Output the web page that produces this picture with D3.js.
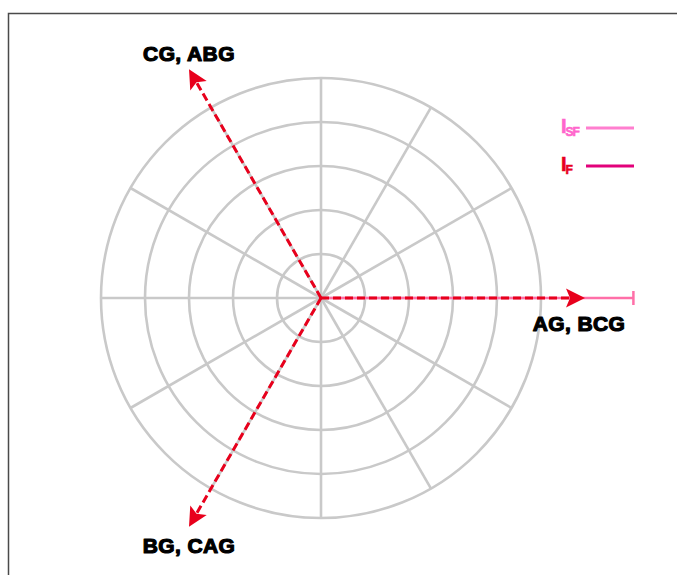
<!DOCTYPE html>
<html>
<head>
<meta charset="utf-8">
<script src="https://cdn.jsdelivr.net/npm/d3@7"></script>
<style>
  html, body { margin: 0; padding: 0; background: #fff; }
  svg { display: block; }
  .lbl { font-family: "Liberation Sans", Arial, sans-serif; font-weight: bold; }
</style>
</head>
<body>
<svg id="chart" width="677" height="575"></svg>
<script>
// Polar grid: ring values and spoke angles (degrees, counter-clockwise from east)
const ringValues = [0.2, 0.4, 0.6, 0.8, 1.0];
const spokeAngles = [0, 30, 60, 90, 120, 150, 180, 210, 240, 270, 300, 330];

// Fault-type phasors (dashed red arrows)
const faultLabels = ["AG, BCG", "CG, ABG", "BG, CAG"];
const faultAngles = [0, 120, 240];
const faultMagnitudes = [1.2, 1.2, 1.2];

// Reference current phasor (pink, with end tick)
const refAngle = [0];
const refMagnitude = [1.42];

// Legend entries
const legendNames = [["I", "SF"], ["I", "F"]];
const legendTextColors = ["#ff66cc", "#e8001c"];
const legendLineColors = ["#ff7fcf", "#e2007a"];

const svg = d3.select("#chart");
const cx = 321, cy = 298;
const r = d3.scaleLinear().domain([0, 1]).range([0, 220]);
const rad = d => d * Math.PI / 180;
const px = (ang, m) => cx + r(m) * Math.cos(rad(ang));
const py = (ang, m) => cy - r(m) * Math.sin(rad(ang));

// Frame
svg.append("rect").attr("x", 8.5).attr("y", 13.5).attr("width", 720).attr("height", 620)
  .attr("fill", "none").attr("stroke", "#4a4a4a").attr("stroke-width", 1.5);

const grid = svg.append("g").attr("fill", "none").attr("stroke", "#c9c9c9").attr("stroke-width", 2.6);
grid.selectAll("circle").data(ringValues).join("circle")
  .attr("cx", cx).attr("cy", cy).attr("r", d => r(d));
grid.selectAll("line").data(spokeAngles).join("line")
  .attr("x1", cx).attr("y1", cy)
  .attr("x2", d => px(d, d3.max(ringValues)))
  .attr("y2", d => py(d, d3.max(ringValues)));

// Arrowhead marker
const defs = svg.append("defs");
defs.append("marker").attr("id", "head")
  .attr("viewBox", "-20 -10 21 20").attr("refX", 0).attr("refY", 0)
  .attr("markerWidth", 21).attr("markerHeight", 20)
  .attr("markerUnits", "userSpaceOnUse").attr("orient", "auto")
  .append("path").attr("d", "M0,0 L-19,-9.5 L-15,0 L-19,9.5 Z").attr("fill", "#e8001c");

// Pink reference phasor
svg.selectAll(".ref").data(refAngle).join("g").attr("class", "ref").each(function(a, i) {
  const g = d3.select(this);
  const m = refMagnitude[i];
  g.append("line").attr("x1", cx).attr("y1", cy)
    .attr("x2", px(a, m)).attr("y2", py(a, m))
    .attr("stroke", "#ff6fa8").attr("stroke-width", 2.5);
  const tx = px(a, m), ty = py(a, m);
  const nx = -Math.sin(rad(a)), ny = -Math.cos(rad(a));
  g.append("line").attr("x1", tx - 7 * nx).attr("y1", ty - 7 * ny)
    .attr("x2", tx + 7 * nx).attr("y2", ty + 7 * ny)
    .attr("stroke", "#ff6fa8").attr("stroke-width", 2.5);
});

// Dashed fault phasors
const faults = faultLabels.map((l, i) => ({ label: l, ang: faultAngles[i], mag: faultMagnitudes[i] }));
svg.selectAll(".fault").data(faults).join("line").attr("class", "fault")
  .attr("x1", cx).attr("y1", cy)
  .attr("x2", d => px(d.ang, d.mag) - 15 * Math.cos(rad(d.ang)))
  .attr("y2", d => py(d.ang, d.mag) + 15 * Math.sin(rad(d.ang)))
  .attr("stroke", "#e8001c").attr("stroke-width", 3)
  .attr("stroke-dasharray", "8,4");
svg.selectAll(".faulthead").data(faults).join("line").attr("class", "faulthead")
  .attr("x1", d => px(d.ang, d.mag) - 16 * Math.cos(rad(d.ang)))
  .attr("y1", d => py(d.ang, d.mag) + 16 * Math.sin(rad(d.ang)))
  .attr("x2", d => px(d.ang, d.mag))
  .attr("y2", d => py(d.ang, d.mag))
  .attr("stroke", "none").attr("marker-end", "url(#head)");

// Fault labels placed just beyond each arrow tip
svg.selectAll(".flabel").data(faults).join("text").attr("class", "lbl flabel")
  .attr("x", d => d.ang === 0 ? px(d.ang, d.mag) - 6 : px(d.ang, d.mag))
  .attr("y", d => {
    const ty = py(d.ang, d.mag);
    if (d.ang === 0) return ty + 33;
    return Math.sin(rad(d.ang)) > 0 ? ty - 8 : ty + 26;
  })
  .attr("text-anchor", "middle").attr("font-size", 21).attr("letter-spacing", 0.4)
  .attr("fill", "#000").attr("stroke", "#000").attr("stroke-width", 1.2)
  .attr("stroke-linejoin", "round")
  .text(d => d.label);

// Legend
const leg = svg.append("g").selectAll("g").data(legendNames).join("g")
  .attr("transform", (d, i) => `translate(561, ${128 + i * 38})`);
leg.append("text").attr("class", "lbl")
  .attr("y", 5).attr("font-size", 20).attr("letter-spacing", -1)
  .attr("fill", (d, i) => legendTextColors[i])
  .attr("stroke", (d, i) => legendTextColors[i]).attr("stroke-width", 0.6)
  .each(function(d) {
    const t = d3.select(this);
    t.append("tspan").text(d[0]);
    t.append("tspan").attr("font-size", 12).attr("dy", 3).text(d[1]);
  });
leg.append("line").attr("x1", 25).attr("x2", 73).attr("y1", 0).attr("y2", 0)
  .attr("stroke", (d, i) => legendLineColors[i]).attr("stroke-width", 3);
</script>
</body>
</html>
